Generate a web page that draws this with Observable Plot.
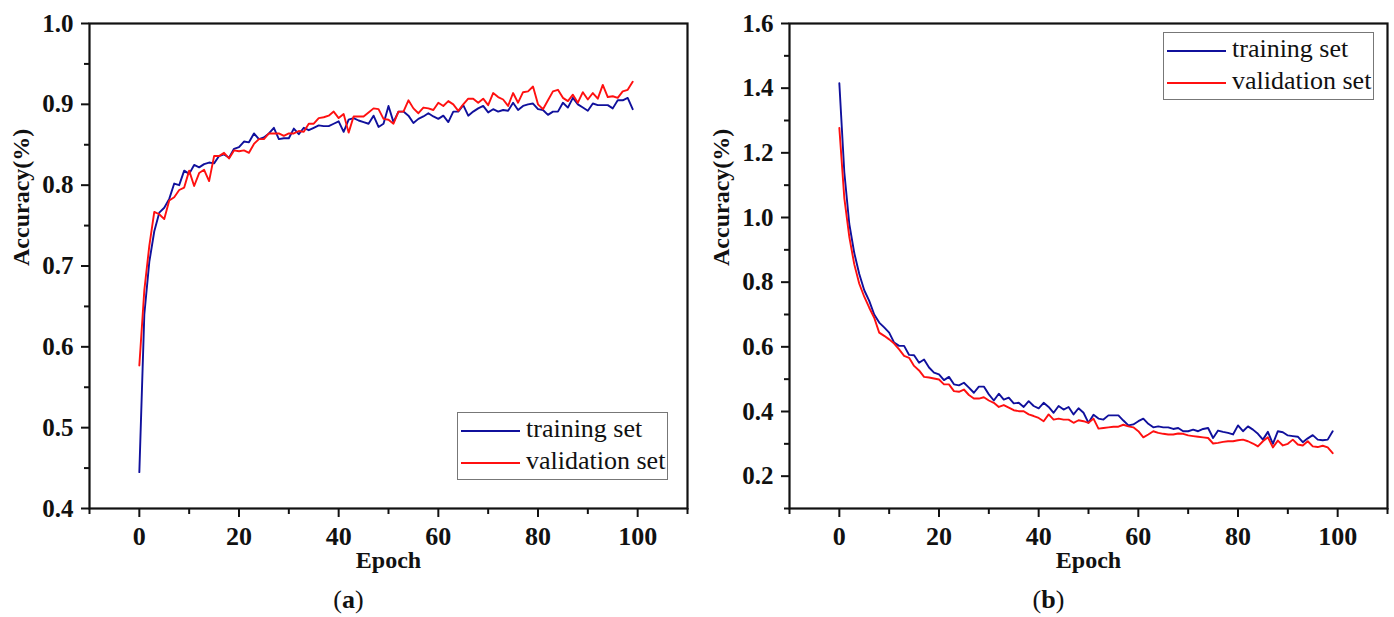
<!DOCTYPE html>
<html>
<head>
<meta charset="utf-8">
<script src="https://cdn.jsdelivr.net/npm/d3@7"></script>
<script src="https://cdn.jsdelivr.net/npm/@observablehq/plot@0.6"></script>
<style>
  body { margin: 0; background: white; }
  #root { position: relative; width: 1394px; height: 617px; background: white; font-family: "Liberation Serif", "Times New Roman", serif; }
  .panel { position: absolute; top: 0; width: 697px; height: 617px; }
  .legend { position: absolute; width: 211px; height: 68px; border: 1px solid #777; box-sizing: border-box; background: white; }
  .legend .ln { position: absolute; left: 3px; width: 59px; height: 0; }
  .legend .tx { position: absolute; left: 68px; font-size: 26px; line-height: 26px; color: #111; white-space: nowrap; }
  .caption { position: absolute; left: 0; width: 697px; text-align: center; font-size: 26px; line-height: 26px; color: #111; }
</style>
</head>
<body>
<div id="root"></div>
<script>
// ---- data ----
const epochs = d3.range(100);

const trainAcc = [0.445,0.640,0.705,0.743,0.766,0.772,0.783,0.802,0.800,0.818,
  0.814,0.825,0.822,0.826,0.828,0.827,0.836,0.838,0.834,0.845,
  0.847,0.854,0.853,0.864,0.857,0.859,0.864,0.871,0.857,0.858,
  0.858,0.870,0.863,0.871,0.868,0.871,0.874,0.873,0.873,0.876,
  0.879,0.866,0.881,0.883,0.880,0.878,0.876,0.886,0.872,0.876,
  0.898,0.878,0.891,0.891,0.886,0.877,0.882,0.885,0.889,0.885,
  0.882,0.886,0.878,0.891,0.891,0.899,0.886,0.891,0.895,0.898,
  0.890,0.894,0.891,0.893,0.892,0.902,0.893,0.898,0.900,0.901,
  0.894,0.893,0.887,0.891,0.891,0.902,0.896,0.908,0.900,0.896,
  0.892,0.901,0.899,0.899,0.899,0.895,0.905,0.905,0.908,0.894];

const valAcc = [0.577,0.670,0.725,0.767,0.764,0.758,0.781,0.785,0.794,0.797,
  0.818,0.799,0.815,0.819,0.805,0.836,0.836,0.840,0.833,0.843,
  0.842,0.843,0.840,0.851,0.857,0.857,0.864,0.864,0.864,0.861,
  0.864,0.864,0.867,0.866,0.876,0.876,0.883,0.884,0.886,0.891,
  0.883,0.888,0.865,0.885,0.885,0.885,0.890,0.895,0.894,0.882,
  0.881,0.876,0.891,0.891,0.905,0.895,0.889,0.896,0.895,0.893,
  0.902,0.898,0.904,0.900,0.892,0.900,0.907,0.907,0.902,0.907,
  0.899,0.914,0.909,0.906,0.898,0.914,0.902,0.915,0.916,0.922,
  0.900,0.894,0.905,0.916,0.918,0.908,0.904,0.912,0.902,0.915,
  0.906,0.914,0.907,0.924,0.909,0.910,0.908,0.916,0.918,0.928];

const trainLoss = [1.415,1.140,0.980,0.890,0.825,0.775,0.742,0.700,0.675,0.660,
  0.644,0.613,0.603,0.603,0.575,0.574,0.551,0.561,0.536,0.520,
  0.515,0.497,0.507,0.484,0.481,0.489,0.474,0.458,0.477,0.477,
  0.453,0.434,0.455,0.437,0.443,0.425,0.427,0.414,0.432,0.417,
  0.410,0.427,0.414,0.396,0.417,0.406,0.414,0.391,0.410,0.396,
  0.365,0.390,0.378,0.375,0.388,0.388,0.388,0.372,0.357,0.360,
  0.370,0.378,0.362,0.351,0.354,0.351,0.351,0.346,0.349,0.339,
  0.339,0.344,0.339,0.346,0.349,0.318,0.341,0.337,0.334,0.329,
  0.357,0.339,0.354,0.344,0.331,0.313,0.337,0.300,0.339,0.336,
  0.326,0.324,0.322,0.305,0.317,0.327,0.313,0.311,0.313,0.339];

const valLoss = [1.277,1.060,0.940,0.855,0.795,0.755,0.721,0.690,0.644,0.634,
  0.623,0.610,0.592,0.572,0.566,0.541,0.527,0.507,0.505,0.502,
  0.499,0.484,0.484,0.463,0.461,0.468,0.451,0.440,0.440,0.444,
  0.434,0.427,0.414,0.420,0.412,0.404,0.401,0.401,0.391,0.386,
  0.380,0.370,0.391,0.375,0.378,0.375,0.375,0.365,0.373,0.370,
  0.365,0.378,0.347,0.349,0.351,0.353,0.353,0.359,0.354,0.351,
  0.339,0.320,0.329,0.339,0.334,0.331,0.329,0.329,0.332,0.331,
  0.326,0.324,0.322,0.320,0.318,0.301,0.303,0.306,0.308,0.308,
  0.311,0.313,0.308,0.301,0.292,0.308,0.320,0.289,0.310,0.295,
  0.300,0.313,0.298,0.295,0.308,0.292,0.290,0.294,0.289,0.271];

const xMajor = [0, 20, 40, 60, 80, 100];
const xMinor = [-10, 10, 30, 50, 70, 90, 110];
const accMajor = [0.4, 0.5, 0.6, 0.7, 0.8, 0.9, 1.0];
const accMinor = [0.45, 0.55, 0.65, 0.75, 0.85, 0.95];
const lossMajor = [0.2, 0.4, 0.6, 0.8, 1.0, 1.2, 1.4, 1.6];
const lossMinor = [0.1, 0.3, 0.5, 0.7, 0.9, 1.1, 1.3, 1.5];

const seriesNames = ["training set", "validation set"];
const seriesColors = ["#10109c", "#ff1010"];
const yLabel = "Accuracy(%)";
const xLabel = "Epoch";

// ---- drawing ----
const root = document.getElementById("root");
const blank = () => "";

function makePanel(left, train, val, yDomain, yMajor, yMinor, legendLeft, legendTop, captionLetter) {
  const panel = document.createElement("div");
  panel.className = "panel";
  panel.style.left = left + "px";
  root.appendChild(panel);

  const trainRows = epochs.map((e, i) => ({epoch: e, value: train[i]}));
  const valRows = epochs.map((e, i) => ({epoch: e, value: val[i]}));

  const svg = Plot.plot({
    width: 697,
    height: 578,
    marginLeft: 89,
    marginRight: 10,
    marginTop: 23,
    marginBottom: 70,
    x: {domain: [-10, 110], label: null},
    y: {domain: yDomain, label: null},
    style: {fontFamily: "'Liberation Serif', 'Times New Roman', serif", background: "white", color: "#111", overflow: "visible"},
    marks: [
      Plot.line(trainRows, {x: "epoch", y: "value", stroke: seriesColors[0], strokeWidth: 1.9}),
      Plot.line(valRows, {x: "epoch", y: "value", stroke: seriesColors[1], strokeWidth: 1.9}),
      Plot.frame({stroke: "#111", strokeWidth: 2.2}),
      Plot.axisY(yMinor, {tickSize: 5, strokeWidth: 2, tickFormat: blank, label: null}),
      Plot.axisY(yMajor, {tickSize: 8, tickPadding: 8, strokeWidth: 2, fontSize: 25, fontWeight: "bold", tickFormat: d3.format(".1f"), label: null}),
      Plot.axisX(xMinor, {tickSize: 6, strokeWidth: 2, tickFormat: blank, label: null}),
      Plot.axisX(xMajor, {tickSize: 9, tickPadding: 9, strokeWidth: 2, fontSize: 26, fontWeight: "bold", tickFormat: d => String(d), label: null}),
      Plot.text([yLabel], {text: d => d, frameAnchor: "left", dx: -68, rotate: -90, fontSize: 24, fontWeight: "bold", fill: "#111"}),
      Plot.text([xLabel], {text: d => d, frameAnchor: "bottom", dy: 52, lineAnchor: "middle", fontSize: 24, fontWeight: "bold", fill: "#111"})
    ]
  });
  d3.select(svg).selectAll('g[aria-label="y-axis tick label"], g[aria-label="x-axis tick label"]')
    .attr("font-weight", "bold").attr("fill", "#111");
  svg.style.position = "absolute";
  svg.style.left = "0px";
  svg.style.top = "0px";
  panel.appendChild(svg);

  // legend inside the plot area
  const lg = document.createElement("div");
  lg.className = "legend";
  lg.style.left = legendLeft + "px";
  lg.style.top = legendTop + "px";
  const rowsY = [18, 50];
  seriesNames.forEach((name, i) => {
    const ln = document.createElement("div");
    ln.className = "ln";
    ln.style.top = (rowsY[i] - 1) + "px";
    ln.style.borderTop = "2px solid " + seriesColors[i];
    lg.appendChild(ln);
    const tx = document.createElement("div");
    tx.className = "tx";
    tx.style.top = (rowsY[i] - 15) + "px";
    tx.textContent = name;
    lg.appendChild(tx);
  });
  panel.appendChild(lg);

  // caption below
  const cap = document.createElement("div");
  cap.className = "caption";
  cap.style.top = "587px";
  cap.innerHTML = "(<b>" + captionLetter + "</b>)";
  panel.appendChild(cap);
}

makePanel(0, trainAcc, valAcc, [0.4, 1.0], accMajor, accMinor, 457, 412, "a");
makePanel(700, trainLoss, valLoss, [0.1, 1.6], lossMajor, lossMinor, 463, 32, "b");
</script>
</body>
</html>
